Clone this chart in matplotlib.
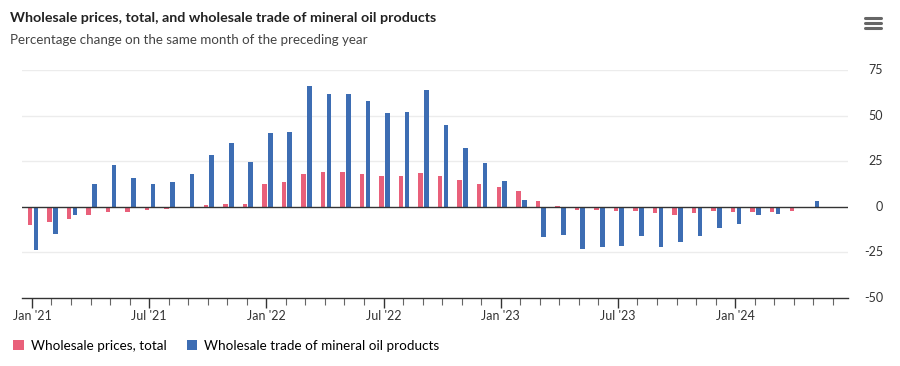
import matplotlib
matplotlib.use("Agg")
import matplotlib.pyplot as plt
import numpy as np

# monthly data, Jan 2021 - Jun 2024 (percent change on same month of previous year)
months = ["Jan '21", "Feb '21", "Mar '21", "Apr '21", "May '21", "Jun '21",
          "Jul '21", "Aug '21", "Sep '21", "Oct '21", "Nov '21", "Dec '21",
          "Jan '22", "Feb '22", "Mar '22", "Apr '22", "May '22", "Jun '22",
          "Jul '22", "Aug '22", "Sep '22", "Oct '22", "Nov '22", "Dec '22",
          "Jan '23", "Feb '23", "Mar '23", "Apr '23", "May '23", "Jun '23",
          "Jul '23", "Aug '23", "Sep '23", "Oct '23", "Nov '23", "Dec '23",
          "Jan '24", "Feb '24", "Mar '24", "Apr '24", "May '24", "Jun '24"]

wholesale_total = [-10.2, -8.6, -6.9, -4.7, -3.1, -2.6,
                   -1.8, -1.3, -0.8, 1.1, 1.6, 1.6,
                   12.4, 13.5, 18.2, 19.3, 19.3, 17.9,
                   17.1, 16.8, 18.7, 16.8, 14.6, 12.4,
                   10.8, 8.6, 3.1, 0.5, -1.5, -1.5,
                   -2.1, -2.1, -3.6, -4.3, -3.6, -2.5,
                   -3.0, -3.0, -3.0, -2.5, -0.9, -0.9]

mineral_oil = [-23.7, -15.0, -4.7, 12.4, 23.0, 15.7,
               12.4, 13.5, 18.2, 28.4, 35.0, 24.8,
               40.4, 41.0, 66.3, 61.9, 61.9, 58.1,
               51.2, 51.7, 64.1, 44.6, 32.3, 24.2,
               14.0, 3.8, -16.6, -15.7, -23.1, -22.0,
               -21.5, -16.0, -22.0, -19.3, -16.0, -11.8,
               -9.7, -4.7, -4.2, -0.9, 3.1, np.nan]

label_months = ["Jan '21", "Jul '21", "Jan '22", "Jul '22", "Jan '23", "Jul '23", "Jan '24"]
y_ticks = [-50, -25, 0, 25, 50, 75]

pink = "#e9607a"
blue = "#3d6db3"
font = ["Lato", "DejaVu Sans"]

fig = plt.figure(figsize=(9, 3.66), dpi=100)
ax = fig.add_axes([22 / 900, 1 - 298 / 366, (848 - 22) / 900, (298 - 70) / 366])

x = np.arange(len(months))
ax.bar(x - 0.1, wholesale_total, width=0.23, color=pink, zorder=3,
       label="Wholesale prices, total")
ax.bar(x + 0.2, mineral_oil, width=0.24, color=blue, zorder=3,
       label="Wholesale trade of mineral oil products")

ax.set_xlim(-0.51, 41.78)
ax.set_ylim(-50, 75)

# grid
for v in y_ticks:
    if v == 0:
        ax.axhline(0, color="#333333", lw=1.0, zorder=4)
    elif v != -50:
        ax.axhline(v, color="#ececec", lw=1.0, zorder=1)

for s in ["top", "right", "left"]:
    ax.spines[s].set_visible(False)
ax.spines["bottom"].set_color("#333333")
ax.spines["bottom"].set_linewidth(1.0)

ax.set_yticks([])
ax.set_xticks(x, minor=True)
ax.set_xticks([months.index(m) for m in label_months])
ax.set_xticklabels(label_months, fontsize=9, color="#333333", family=font)
ax.tick_params(axis="x", which="major", length=7, width=1, color="#333333", pad=2)
ax.tick_params(axis="x", which="minor", length=5, width=0.8, color="#666666")

# y labels on the right
for v in y_ticks:
    yy = ax.transData.transform((0, v))[1]
    fig.text(883 / 900, yy / 366, str(v), ha="right", va="center",
             fontsize=9, color="#333333", family=font)

fig.text(10 / 900, 1 - 18 / 366,
         "Wholesale prices, total, and wholesale trade of mineral oil products",
         fontsize=10.3, fontweight="bold", color="#222222", va="center", family=font)
fig.text(10 / 900, 1 - 40 / 366, "Percentage change on the same month of the preceding year",
         fontsize=9.6, color="#444444", va="center", family=font)

# legend
fig.legend(loc="center left", bbox_to_anchor=(1 / 900, 1 - 346 / 366), ncol=2,
           frameon=False, handlelength=0.8, handleheight=0.8, handletextpad=0.5,
           columnspacing=1.5, prop={"family": font, "size": 9.7})

# menu icon
for yy in [17.7, 22.5, 27.5]:
    fig.add_artist(plt.Line2D([865 / 900, 881 / 900], [1 - yy / 366, 1 - yy / 366],
                              color="#666666", lw=2.2, solid_capstyle="round"))

fig.savefig("out.png", dpi=100)
